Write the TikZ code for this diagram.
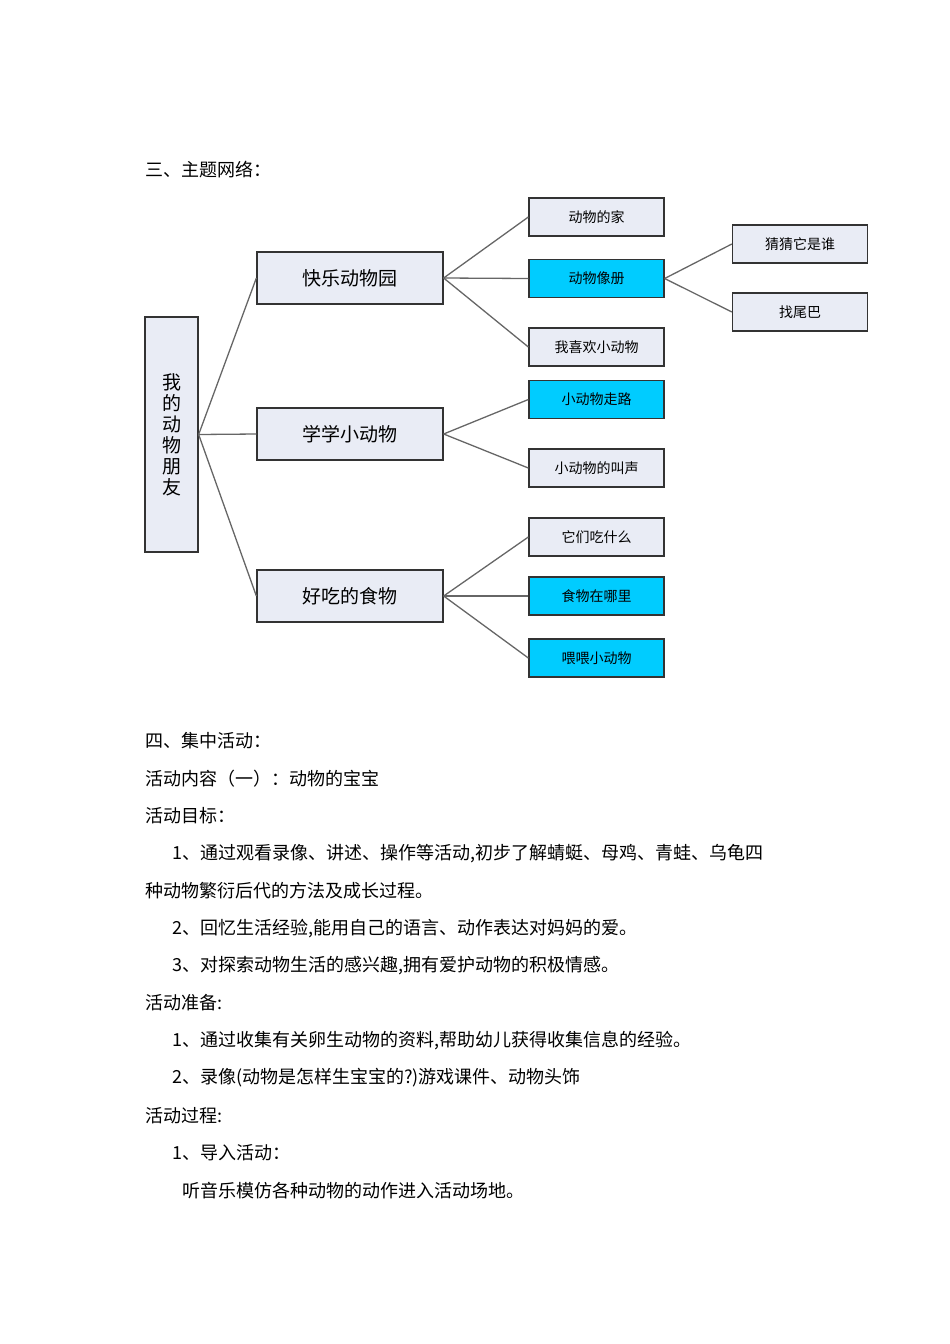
\documentclass[tikz,border=0pt]{standalone}
\usepackage{fontspec}
\setmainfont{Noto Sans CJK SC}
\usetikzlibrary{positioning}
\definecolor{boxfill}{HTML}{E9ECF5}
\definecolor{cy}{HTML}{00CCFF}
\begin{document}
\begin{tikzpicture}[x=1pt,y=-1pt,
 bx/.style={draw=black!80,line width=1.3pt,fill=boxfill,minimum height=38pt,minimum width=135pt,font=\fontsize{14}{14}\selectfont,inner sep=0pt},
 big/.style={bx,minimum width=186pt,minimum height=52pt,font=\fontsize{19}{19}\selectfont},
 cb/.style={bx,fill=cy},
 ln/.style={draw=black!60,line width=1.3pt},
 tx/.style={anchor=west,font=\fontsize{18}{18}\selectfont,inner sep=0pt}]
\useasboundingbox (0,0) rectangle (950,1344);
\node[bx,minimum width=53pt,minimum height=235pt,font=\fontsize{19}{21}\selectfont,align=center] (root) at (171.5,434.5) {我\\的\\动\\物\\朋\\友};
\node[big] (a) at (350,278) {快乐动物园};
\node[big] (b) at (350,434) {学学小动物};
\node[big] (c) at (350,596) {好吃的食物};
\node[bx] (a1) at (596.5,217) {动物的家};
\node[cb] (a2) at (596.5,278.5) {动物像册};
\node[bx] (a3) at (596.5,347) {我喜欢小动物};
\node[cb] (b1) at (596.5,399.5) {小动物走路};
\node[bx] (b2) at (596.5,468) {小动物的叫声};
\node[bx] (c1) at (596.5,537) {它们吃什么};
\node[cb] (c2) at (596.5,596) {食物在哪里};
\node[cb] (c3) at (596.5,658) {喂喂小动物};
\node[bx] (d1) at (800,244) {猜猜它是谁};
\node[bx] (d2) at (800,312) {找尾巴};
\foreach \t in {a,b,c} \draw[ln] (root.east) -- (\t.west);
\foreach \t in {a1,a2,a3} \draw[ln] (a.east) -- (\t.west);
\foreach \t in {b1,b2} \draw[ln] (b.east) -- (\t.west);
\foreach \t in {c1,c2,c3} \draw[ln] (c.east) -- (\t.west);
\foreach \t in {d1,d2} \draw[ln] (a2.east) -- (\t.west);
\node[tx] (t0) at (145,170) {三、主题网络：};
\node[tx] (t1) at (145,741) {四、集中活动：};
\node[tx] (t2) at (145,779) {活动内容（一）：动物的宝宝};
\node[tx] (t3) at (145,816) {活动目标：};
\node[tx] (t4) at (172,854) {1、通过观看录像、讲述、操作等活动,初步了解蜻蜓、母鸡、青蛙、乌龟四};
\node[tx] (t5) at (145,891) {种动物繁衍后代的方法及成长过程。};
\node[tx] (t6) at (172,929) {2、回忆生活经验,能用自己的语言、动作表达对妈妈的爱。};
\node[tx] (t7) at (172,966) {3、对探索动物生活的感兴趣,拥有爱护动物的积极情感。};
\node[tx] (t8) at (145,1003) {活动准备:};
\node[tx] (t9) at (172,1041) {1、通过收集有关卵生动物的资料,帮助幼儿获得收集信息的经验。};
\node[tx] (t10) at (172,1078) {2、录像(动物是怎样生宝宝的?)游戏课件、动物头饰};
\node[tx] (t11) at (145,1116) {活动过程:};
\node[tx] (t12) at (172,1153) {1、导入活动：};
\node[tx] (t13) at (182,1191) {听音乐模仿各种动物的动作进入活动场地。};
\end{tikzpicture}
\end{document}
